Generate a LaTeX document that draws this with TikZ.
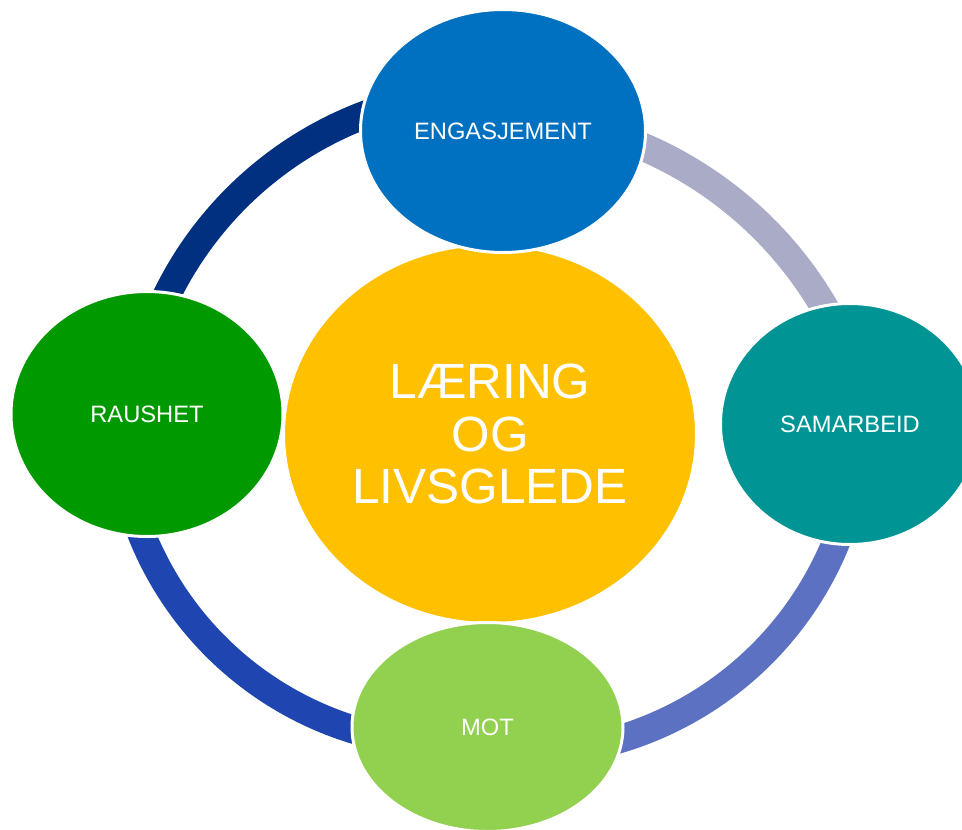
\documentclass[tikz,border=0pt]{standalone}
\usepackage{fontspec}
\setmainfont{Liberation Sans}
\usetikzlibrary{shapes.geometric}
\definecolor{arcA}{HTML}{00307F}
\definecolor{arcB}{HTML}{AAABC7}
\definecolor{arcC}{HTML}{5C71C2}
\definecolor{arcD}{HTML}{1E45B0}
\definecolor{cyellow}{HTML}{FFC000}
\definecolor{cblue}{HTML}{0070C0}
\definecolor{cteal}{HTML}{009494}
\definecolor{clime}{HTML}{92D050}
\definecolor{cgreen}{HTML}{009900}
\begin{document}
\begin{tikzpicture}[x=1pt,y=-1pt,
  ring/.style={line width=28pt},
  bubble/.style={ellipse, draw=white, line width=3pt, text=white, inner sep=0pt,
    align=center, font=\fontsize{23.7}{28}\selectfont}]
\useasboundingbox (0,0) rectangle (962,830);
\clip (0,0) rectangle (962,830);
\fill[white] (0,0) rectangle (962,830);
% ring segments
\draw[ring, arcA] plot[domain=200:254, samples=80] ({494.8+365.4*cos(\x)},{456.3+365.4*sin(\x)});
\draw[ring, arcB] plot[domain=-72:-25, samples=80] ({490+387.4*cos(\x)},{502.7+387.4*sin(\x)});
\draw[ring, arcC] plot[domain=17:78, samples=80] ({521.6+339.6*cos(\x)},{414+339.6*sin(\x)});
\draw[ring, arcD] plot[domain=102:163, samples=80] ({452.8+335.3*cos(\x)},{409.4+335.3*sin(\x)});
% centre
\node[bubble, fill=cyellow, minimum width=413pt, minimum height=379pt,
  font=\fontsize{49.5}{52.5}\selectfont] (center) at (490,434) {LÆRING\\OG\\LIVSGLEDE};
% satellites
\node[bubble, fill=cblue, minimum width=285pt, minimum height=243pt] (eng) at (503,131) {ENGASJEMENT};
\node[bubble, fill=cteal, minimum width=259pt, minimum height=241pt] (sam) at (850,424) {SAMARBEID};
\node[bubble, fill=clime, minimum width=271pt, minimum height=209pt] (mot) at (487.5,727) {MOT};
\node[bubble, fill=cgreen, minimum width=272pt, minimum height=245pt] (rau) at (147,414) {RAUSHET};
\end{tikzpicture}
\end{document}
